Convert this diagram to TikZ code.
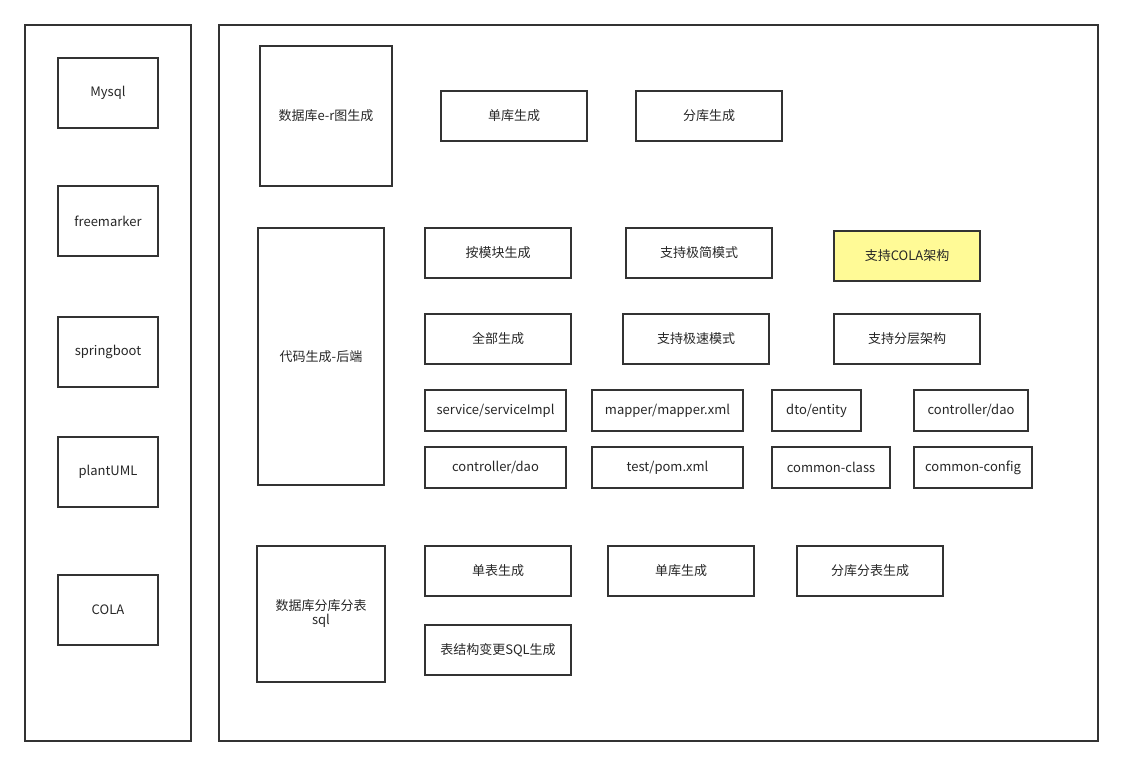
\documentclass[tikz,border=0pt]{standalone}
\usepackage{fontspec}
\setmainfont{Noto Sans CJK SC}
\definecolor{ln}{HTML}{333333}
\definecolor{yel}{HTML}{FFFA96}
\tikzset{bx/.style={draw=ln,line width=1.8pt,align=center,font=\fontsize{13}{16}\selectfont,text=black!85}}
\newcommand{\bx}[7][]{\draw[bx,#1] (#3pt,-#4pt) rectangle (#5pt,-#6pt) node[midway,bx,draw=none] (#2) {#7};}
\begin{document}
\begin{tikzpicture}
\useasboundingbox (0,0) rectangle (1123pt,-766pt);
\bx{lp}{25}{25}{191}{741}{}
\bx{rp}{219}{25}{1098}{741}{}
\bx{a1}{58}{58}{158}{128}{Mysql}
\bx{a2}{58}{186}{158}{256}{freemarker}
\bx{a3}{58}{317}{158}{387}{springboot}
\bx{a4}{58}{437}{158}{507}{plantUML}
\bx{a5}{58}{575}{158}{645}{COLA}
\bx{b0}{260}{46}{392}{186}{数据库e-r图生成}
\bx{b1}{441}{91}{587}{141}{单库生成}
\bx{b2}{636}{91}{782}{141}{分库生成}
\bx{c0}{258}{228}{384}{485}{代码生成-后端}
\bx{c1}{425}{228}{571}{278}{按模块生成}
\bx{c2}{626}{228}{772}{278}{支持极简模式}
\bx[fill=yel]{c3}{834}{231}{980}{281}{支持COLA架构}
\bx{c4}{425}{314}{571}{364}{全部生成}
\bx{c5}{623}{314}{769}{364}{支持极速模式}
\bx{c6}{834}{314}{980}{364}{支持分层架构}
\bx{d1}{425}{390}{566}{431}{service/serviceImpl}
\bx{d2}{592}{390}{743}{431}{mapper/mapper.xml}
\bx{d3}{772}{390}{861}{431}{dto/entity}
\bx{d4}{914}{390}{1028}{431}{controller/dao}
\bx{e1}{425}{447}{566}{488}{controller/dao}
\bx{e2}{592}{447}{743}{488}{test/pom.xml}
\bx{e3}{772}{447}{890}{488}{common-class}
\bx{e4}{914}{447}{1032}{488}{common-config}
\bx{f0}{257}{546}{385}{682}{数据库分库分表\\[-2pt]sql}
\bx{f1}{425}{546}{571}{596}{单表生成}
\bx{f2}{608}{546}{754}{596}{单库生成}
\bx{f3}{797}{546}{943}{596}{分库分表生成}
\bx{f4}{425}{625}{571}{675}{表结构变更SQL生成}
\end{tikzpicture}
\end{document}
